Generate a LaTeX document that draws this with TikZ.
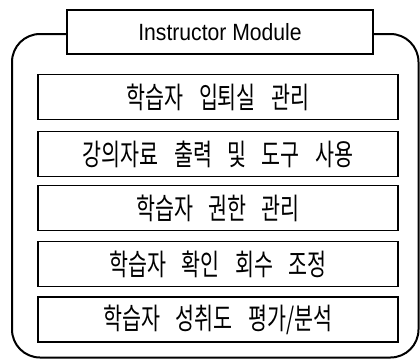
\documentclass[tikz,border=0pt]{standalone}
\usepackage{fontspec}
\newfontfamily\krfont[FakeStretch=0.7,WordSpace=3.3]{Noto Sans CJK KR}
\newfontfamily\titlefont[FakeStretch=0.9]{Liberation Sans}
\begin{document}
\begin{tikzpicture}[x=1pt,y=-1pt,
  modbox/.style={draw=black,line width=1.5pt,fill=white,minimum width=360pt,minimum height=45pt,inner sep=0pt,font=\krfont\fontsize{29.5}{29.5}\selectfont},
  titlebox/.style={draw=black,line width=1.5pt,fill=white,minimum width=306pt,minimum height=44pt,inner sep=0pt,font=\titlefont\fontsize{23.5}{23.5}\selectfont},
  frame/.style={draw=black,line width=2pt,rounded corners=28pt}]
\useasboundingbox (0,0) rectangle (420,359);
\draw[frame] (12,34) rectangle (418.5,357.5);
\node[titlebox] (title) at (220,32) {Instructor Module};
\node[modbox] (m1) at (218,97) {학습자 입퇴실 관리};
\node[modbox] (m2) at (218,154) {강의자료 출력 및 도구 사용};
\node[modbox] (m3) at (218,208) {학습자 권한 관리};
\node[modbox] (m4) at (218,264) {학습자 확인 회수 조정};
\node[modbox] (m5) at (218,319.5) {학습자 성취도 평가/분석};
\end{tikzpicture}
\end{document}
